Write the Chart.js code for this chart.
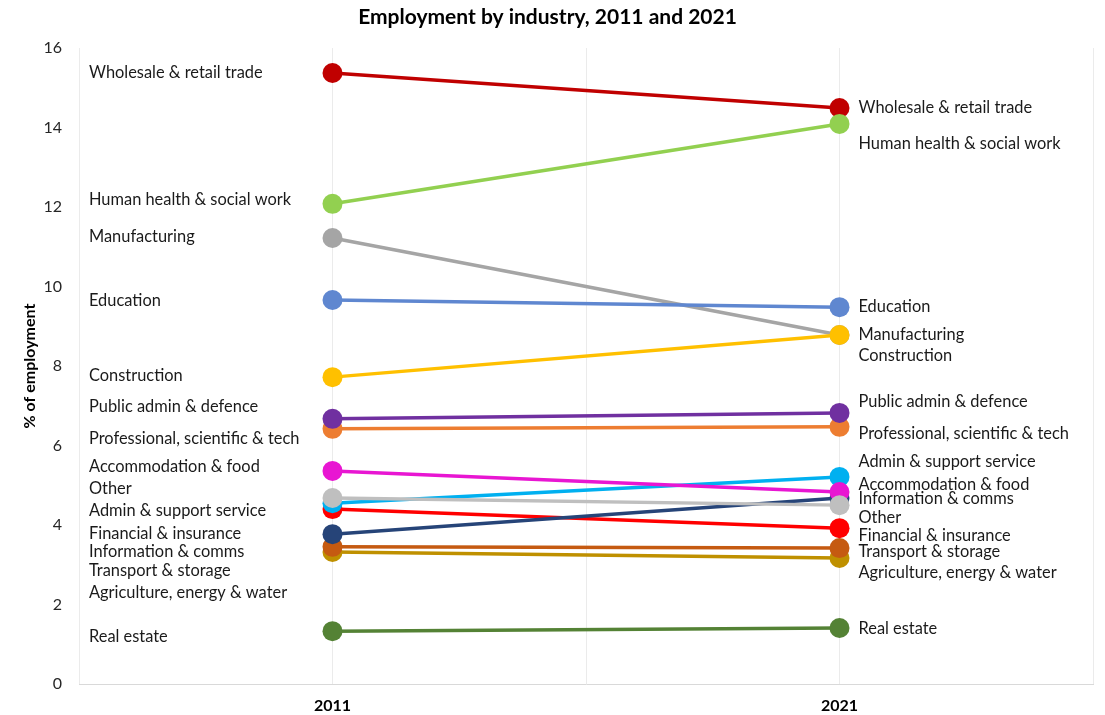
<!DOCTYPE html>
<html>
<head>
<meta charset="utf-8">
<script src="https://cdn.jsdelivr.net/npm/chart.js@4"></script>
<style>
  body { margin: 0; background: #fff; }
</style>
</head>
<body>
<canvas id="myChart" width="1105" height="715"></canvas>
<script>
// years shown on the x axis (placed at positions 1 and 3 of a 0..4 axis)
var years = ["2011", "2021"];
var yearPos = [1, 3];

// industries, bottom of the stack first (later ones sit on top)
var industries = [
  "Real estate",
  "Agriculture, energy & water",
  "Transport & storage",
  "Financial & insurance",
  "Information & comms",
  "Admin & support service",
  "Accommodation & food",
  "Other",
  "Professional, scientific & tech",
  "Public admin & defence",
  "Manufacturing",
  "Construction",
  "Education",
  "Wholesale & retail trade",
  "Human health & social work"
];

// % of employment
var values2011 = [1.33, 3.32, 3.45, 4.40, 3.77, 4.55, 5.36, 4.68, 6.42, 6.67, 11.22, 7.72, 9.66, 15.37, 12.08];
var values2021 = [1.41, 3.17, 3.42, 3.92, 4.68, 5.21, 4.83, 4.50, 6.47, 6.82, 8.78, 8.78, 9.48, 14.49, 14.09];

var colors = [
  "#548235", "#BF9000", "#C55A11", "#FF0000", "#264478", "#00B0F0", "#E816D2",
  "#BFBFBF", "#ED7D31", "#7030A0", "#A5A5A5", "#FFC000", "#5F87D0", "#C00000", "#92D050"
];

// where the text labels sit (in axis units), left and right column
var labelLeft = [1.18, 2.29, 2.84, 3.77, 3.32, 4.35, 5.46, 4.91, 6.16, 6.97, 11.25, 7.75, 9.64, 15.37, 12.18];
var labelRight = [1.4, 2.8, 3.32, 3.74, 4.65, 5.6, 5.02, 4.18, 6.3, 7.1, 8.78, 8.25, 9.48, 14.49, 13.6];

// chart.js paints dataset 0 last, so add them in reverse
var datasets = [];
for (var i = 0; i < industries.length; i++) {
  datasets.unshift({
    label: industries[i],
    data: [
      { x: yearPos[0], y: values2011[i] },
      { x: yearPos[1], y: values2021[i] }
    ],
    borderColor: colors[i],
    backgroundColor: colors[i],
    pointBackgroundColor: colors[i],
    pointBorderWidth: 0,
    pointRadius: 10,
    borderWidth: 3.5
  });
}

// draws the industry names next to the points
var sideLabels = {
  id: "sideLabels",
  afterDatasetsDraw: function (chart) {
    var ctx = chart.ctx;
    var xs = chart.scales.x;
    var ys = chart.scales.y;
    ctx.save();
    ctx.font = "16.4px Lato";
    ctx.fillStyle = "#1a1a1a";
    ctx.textAlign = "left";
    ctx.textBaseline = "middle";
    for (var i = 0; i < industries.length; i++) {
      ctx.fillText(industries[i], chart.chartArea.left + 10, ys.getPixelForValue(labelLeft[i]));
      ctx.fillText(industries[i], xs.getPixelForValue(yearPos[1]) + 19, ys.getPixelForValue(labelRight[i]));
    }
    ctx.restore();
  }
};

var ctx = document.getElementById("myChart").getContext("2d");
var myChart = new Chart(ctx, {
  type: "line",
  data: { datasets: datasets },
  plugins: [sideLabels],
  options: {
    responsive: false,
    animation: false,
    layout: { padding: { left: 0, right: 10, top: 0, bottom: 0 } },
    plugins: {
      legend: { display: false },
      tooltip: { enabled: false },
      title: {
        display: true,
        text: "Employment by industry, 2011 and 2021",
        color: "#000",
        font: { family: "Lato", size: 21, weight: "bold" },
        padding: { top: 5, bottom: 17.8 }
      }
    },
    scales: {
      x: {
        type: "linear",
        min: 0,
        max: 4,
        ticks: {
          stepSize: 1,
          padding: 12,
          color: "#000",
          font: { family: "Lato", size: 16, weight: "bold" },
          callback: function (v) {
            var k = yearPos.indexOf(v);
            return k >= 0 ? years[k] : "";
          }
        },
        grid: { color: "#EBEBEB", drawTicks: false },
        border: { color: "#D9D9D9" },
        afterFit: function (s) { s.height = 31; }
      },
      y: {
        min: 0,
        max: 16,
        ticks: {
          stepSize: 2,
          padding: 17,
          color: "#262626",
          font: { family: "Lato", size: 16 }
        },
        grid: { display: false, drawTicks: false },
        border: { display: false },
        title: {
          display: true,
          text: "% of employment",
          color: "#000",
          font: { family: "Lato", size: 16, weight: "bold" },
          padding: { top: 20, bottom: 0 }
        },
        afterFit: function (s) { s.width = 79; }
      }
    }
  }
});
</script>
</body>
</html>
